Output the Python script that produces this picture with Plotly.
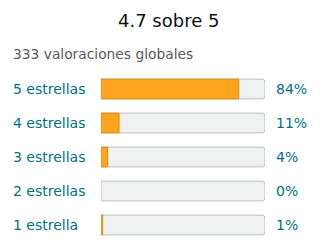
import plotly.graph_objects as go

title_text = "4.7 sobre 5"
subtitle_text = "333 valoraciones globales"
categories = ["5 estrellas", "4 estrellas", "3 estrellas", "2 estrellas", "1 estrella"]
percent = [84, 11, 4, 0, 1]
full = [100, 100, 100, 100, 100]

W, H = 320, 252
ml, mr, mt, mb = 101, 55, 72, 10
pw = W - ml - mr

fig = go.Figure()
fig.add_trace(go.Bar(
    y=categories, x=full, orientation="h",
    marker=dict(color="#F0F2F2", line=dict(color="#B9BDBD", width=1)),
    width=0.58, hoverinfo="skip", showlegend=False,
))
fig.add_trace(go.Bar(
    y=categories, x=percent, orientation="h",
    marker=dict(color="#FFA41C",
                line=dict(color="#E0880E", width=[1 if p > 0 else 0 for p in percent])),
    width=0.58, hoverinfo="skip", showlegend=False,
))

font_family = "DejaVu Sans"
annotations = []
for c, p in zip(categories, percent):
    annotations.append(dict(
        x=(11 - ml) / pw, xref="paper", y=c, yref="y", text=c,
        showarrow=False, xanchor="left", yanchor="middle",
        font=dict(family=font_family, size=14, color="#007185"),
    ))
    annotations.append(dict(
        x=(274 - ml) / pw, xref="paper", y=c, yref="y", text=f"{p}%",
        showarrow=False, xanchor="left", yanchor="middle",
        font=dict(family=font_family, size=14, color="#007185"),
    ))
annotations.append(dict(
    x=(168 - ml) / pw, xref="paper", y=1 + (mt - 21) / (H - mt - mb), yref="paper",
    text=title_text, showarrow=False, xanchor="center", yanchor="middle",
    font=dict(family=font_family, size=18, color="#0F1111"),
))
annotations.append(dict(
    x=(11 - ml) / pw, xref="paper", y=1 + (mt - 54) / (H - mt - mb), yref="paper",
    text=subtitle_text, showarrow=False, xanchor="left", yanchor="middle",
    font=dict(family=font_family, size=13.8, color="#565959"),
))

fig.update_layout(
    width=W, height=H,
    margin=dict(l=ml, r=mr, t=mt, b=mb),
    paper_bgcolor="white", plot_bgcolor="white",
    barmode="overlay", barcornerradius=3,
    xaxis=dict(range=[0, 100], visible=False, fixedrange=True),
    yaxis=dict(autorange="reversed", visible=False, fixedrange=True),
    annotations=annotations,
)
fig.write_html("out.html", config={"displayModeBar": False})
